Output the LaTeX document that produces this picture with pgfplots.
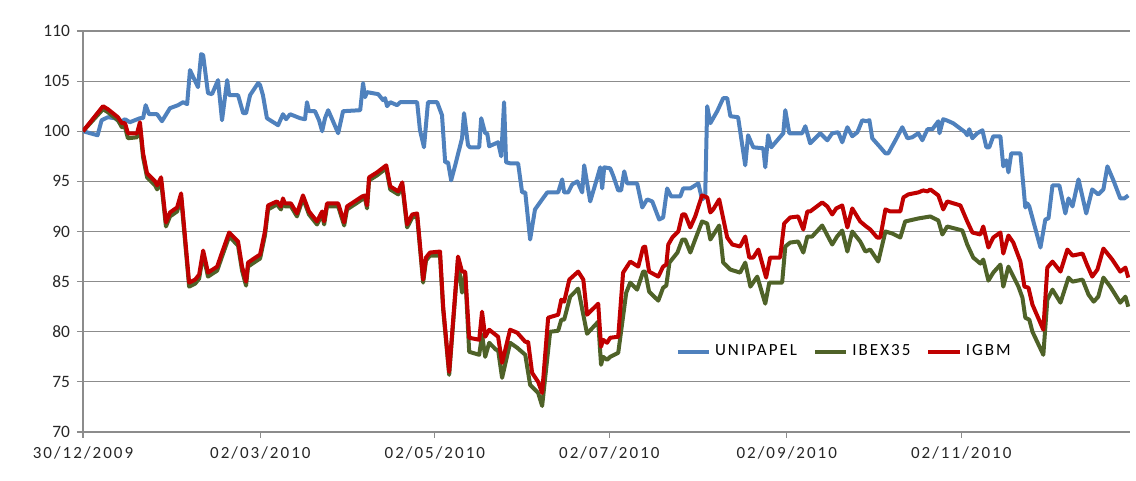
\documentclass[border=0pt]{standalone}
\usepackage{fontspec}
\setmainfont{Carlito}
\newfontfamily\widefont[LetterSpace=12]{Carlito}
\usepackage{pgfplots}
\pgfplotsset{compat=1.18}
\usepackage{pgfplotstable}

\definecolor{uniblue}{HTML}{4F81BD}
\definecolor{ibexgreen}{HTML}{4F6228}
\definecolor{igbmred}{HTML}{C00000}
\definecolor{gridgray}{HTML}{8C8C8C}

% x = days since 30/12/2009
\pgfplotstableread{
d v
0 100
5.1 99.6
6.5 101.1
8.7 101.4
11.2 101.3
12.9 100.9
14.7 101.2
16.4 100.9
19.9 101.3
21.0 101.3
21.9 102.6
23.1 101.7
25.9 101.7
27.6 101.0
30.4 102.3
33.2 102.6
35.0 102.9
36.4 102.7
37.4 106.1
40.2 104.4
41.3 107.7
42.0 107.6
43.7 103.8
45.1 103.7
47.2 105.1
48.6 101.1
50.4 105.1
51.1 103.6
54.2 103.6
56.0 101.8
57.0 101.8
58.4 103.6
61.2 104.8
61.9 104.6
62.9 103.6
64.3 101.3
68.2 100.6
69.9 101.7
71.0 101.2
72.4 101.7
75.9 101.3
77.6 101.2
78.3 102.9
79.0 102.0
81.1 102.0
82.5 101.1
83.6 100.0
84.6 101.3
85.7 102.1
87.4 101.0
89.2 99.8
90.9 102.0
96.9 102.1
97.9 104.8
98.6 103.4
99.3 103.9
103.2 103.7
104.9 103.1
105.6 103.3
106.3 102.5
107.4 102.9
109.8 102.6
110.9 102.9
116.8 102.9
117.8 100.1
119.2 98.4
120.6 102.9
123.8 102.9
125.5 101.6
126.6 96.9
127.6 96.9
128.7 95.1
130.1 96.6
132.5 99.3
133.2 101.8
134.6 98.6
135.3 98.4
138.5 98.4
139.2 101.3
140.6 99.8
141.3 99.8
142.0 98.5
145.1 98.9
146.2 97.5
147.2 102.9
147.9 96.9
149.3 96.8
152.1 96.8
153.5 93.9
154.6 93.9
156.3 89.2
158.0 92.2
160.5 93.2
162.3 93.9
166.1 93.9
167.5 95.2
168.2 93.9
169.6 93.9
171.0 94.7
172.8 95.0
174.5 93.9
175.2 96.6
177.3 93.0
179.7 95.3
180.8 96.4
181.5 94.3
182.2 96.4
184.3 96.3
185.3 95.6
187.1 94.1
188.1 94.1
189.2 96.0
190.2 94.8
193.7 94.8
195.5 92.4
197.2 93.2
199.0 93.0
201.4 91.2
202.8 91.4
204.2 94.3
205.6 93.5
208.8 93.5
209.8 94.3
212.3 94.3
215.1 94.8
216.4 93.2
217.5 93.5
218.2 102.5
219.3 100.8
221.7 102.0
223.8 103.3
225.2 103.3
226.3 101.5
229.0 101.4
231.5 96.6
232.5 99.6
234.3 98.4
237.8 98.3
238.5 96.4
239.5 99.6
240.6 98.4
242.7 99.1
244.8 99.8
245.5 102.1
246.9 99.8
251.4 99.8
252.5 100.5
254.2 98.8
257.7 99.8
260.2 99.1
261.9 99.8
264.0 99.9
265.4 98.9
267.2 100.4
268.9 99.5
270.7 99.9
272.4 101.1
273.8 101.0
274.9 101.1
275.9 99.3
278.7 98.4
280.5 97.8
281.5 97.8
284.0 99.1
286.4 100.4
288.2 99.3
289.9 99.4
292.0 99.8
293.4 99.1
295.2 100.2
296.9 100.2
299.0 101.0
299.4 99.8
300.7 101.2
301.8 101.1
304.2 100.8
308.4 99.9
309.1 99.6
309.8 100.2
310.9 99.3
312.6 99.8
314.4 100.1
315.8 98.4
316.8 98.4
318.2 99.5
320.7 99.5
321.7 96.5
322.8 97.1
323.5 95.9
324.5 97.8
327.7 97.8
329.4 92.4
330.1 92.8
330.8 92.5
334.7 88.4
336.4 91.2
337.5 91.3
338.9 94.6
341.3 94.6
343.4 91.8
344.5 93.3
345.9 92.5
348.0 95.2
350.7 91.8
352.8 94.2
354.9 93.7
356.7 94.2
358.1 96.5
360.2 95.1
362.6 93.3
364.0 93.3
365.4 93.6
}\unipapel

\pgfplotstableread{
d v
0 100
7.0 102.2
8.7 101.9
12.2 101.1
13.6 100.4
14.7 100.4
15.7 99.3
18.9 99.4
19.9 100.5
21.0 97.4
22.4 95.4
25.2 94.6
25.9 94.2
27.3 95.0
29.0 90.5
30.4 91.5
32.9 92.0
34.3 93.4
37.1 84.5
39.2 84.8
40.6 85.3
42.0 87.7
43.7 85.5
46.9 86.1
48.6 87.5
51.1 89.5
54.2 88.6
55.6 86.1
57.0 84.6
57.7 86.5
60.8 87.1
61.9 87.3
63.6 89.6
64.7 92.2
67.8 92.7
69.2 92.2
69.9 93.0
70.6 92.5
72.7 92.5
74.8 91.5
76.9 93.3
79.0 91.7
81.8 90.7
83.6 91.7
84.3 90.7
85.3 92.5
89.2 92.5
91.3 90.6
92.3 92.2
97.6 93.2
98.6 93.3
99.3 92.3
100.0 95.1
102.8 95.6
106.0 96.3
107.4 94.2
110.2 93.7
111.6 94.6
113.3 90.4
115.1 91.4
116.8 91.5
118.9 84.9
119.9 87.1
121.3 87.6
124.8 87.6
125.9 82.2
128.0 75.7
131.1 87.2
132.5 83.9
133.6 85.8
135.0 78.0
138.5 77.7
139.5 79.7
140.6 77.5
142.0 78.9
144.4 78.2
145.1 78.2
146.5 75.4
149.3 78.9
151.8 78.4
154.6 77.7
156.3 74.7
159.1 73.9
160.5 72.6
163.3 80.0
166.1 80.1
167.2 81.2
168.2 81.2
170.3 83.5
173.1 84.3
176.2 79.8
180.1 81.0
181.1 76.7
181.8 77.5
183.2 77.2
184.3 77.5
187.1 77.9
189.9 83.9
191.3 84.9
193.7 84.2
195.8 86.0
196.5 86.0
197.9 84.0
201.1 83.1
202.8 84.4
203.9 84.6
205.0 86.9
207.8 87.9
209.5 89.2
210.5 89.2
212.3 87.9
214.0 89.2
216.4 91.0
218.2 90.8
219.3 89.2
222.4 90.6
223.8 86.9
226.3 86.2
229.7 85.9
231.5 86.9
233.3 84.5
235.7 85.5
238.5 82.8
239.9 84.9
244.4 84.9
245.5 88.5
247.2 88.9
250.0 89.0
251.8 87.9
253.2 89.5
254.9 89.5
258.4 90.6
261.9 88.7
263.6 89.5
265.4 90.1
267.2 88.0
268.9 90.0
271.7 89.0
273.5 88.0
275.2 88.2
278.0 87.0
280.5 90.0
282.9 89.8
285.7 89.4
287.4 91.0
292.0 91.3
296.2 91.5
299.0 91.1
300.4 89.7
302.1 90.5
307.4 90.1
309.1 88.7
311.2 87.4
313.7 86.8
314.7 87.2
316.5 85.1
318.2 85.9
320.7 86.7
321.7 84.5
323.5 86.5
327.0 84.5
328.4 83.4
329.4 81.4
330.8 81.2
331.9 80.0
335.7 77.7
337.1 83.2
338.9 84.2
341.7 82.9
344.5 85.4
345.9 85.0
349.4 85.2
351.5 83.7
353.3 83.0
354.9 83.5
356.7 85.4
359.1 84.5
362.6 82.9
364.4 83.5
365.4 82.5
}\ibex

\pgfplotstableread{
d v
0 100
7.0 102.5
8.7 102.2
12.2 101.4
13.6 100.8
14.7 100.8
15.7 99.8
18.9 99.8
19.9 100.9
21.0 97.8
22.4 95.8
25.2 95.0
25.9 94.6
27.3 95.4
29.0 90.9
30.4 91.9
32.9 92.4
34.3 93.8
37.1 84.9
39.2 85.2
40.6 85.7
42.0 88.1
43.7 85.9
46.9 86.5
48.6 87.9
51.1 89.9
54.2 89.0
55.6 86.5
57.0 85.0
57.7 86.9
60.8 87.5
61.9 87.7
63.6 90.0
64.7 92.6
67.8 93.0
69.2 92.5
69.9 93.3
70.6 92.8
72.7 92.8
74.8 91.8
76.9 93.6
79.0 92.0
81.8 91.0
83.6 92.0
84.3 91.0
85.3 92.8
89.2 92.8
91.3 90.9
92.3 92.5
97.6 93.5
98.6 93.6
99.3 92.6
100.0 95.4
102.8 95.9
106.0 96.6
107.4 94.5
110.2 94.0
111.6 94.9
113.3 90.7
115.1 91.7
116.8 91.8
118.9 85.2
119.9 87.4
121.3 87.9
124.8 88.0
125.9 82.5
128.0 76.0
131.1 87.5
132.5 86.0
133.6 86.0
135.0 79.4
138.5 79.2
139.5 82.0
140.6 79.5
142.0 80.2
145.1 79.5
146.5 76.9
149.3 80.2
151.8 79.9
154.6 79.0
155.6 79.0
157.0 75.9
159.1 75.0
160.5 73.9
162.6 81.4
166.1 81.7
167.2 83.2
168.2 83.0
170.0 85.2
173.1 86.0
174.9 85.2
176.2 81.7
180.1 82.8
181.1 78.5
181.8 79.2
183.2 78.9
184.3 79.4
187.1 79.5
188.8 85.9
191.3 87.0
194.1 86.5
195.8 88.4
196.5 88.5
197.9 86.0
201.1 85.5
202.8 86.5
203.9 86.7
204.6 88.7
206.0 89.4
208.1 90.0
209.5 91.7
210.5 91.7
212.3 90.4
214.0 91.5
216.4 93.6
218.2 93.4
219.3 91.9
220.3 92.2
222.4 93.2
225.2 89.4
227.0 88.7
229.7 88.5
231.5 89.5
232.9 87.4
234.3 87.4
236.1 88.2
238.8 85.4
240.2 87.4
243.7 87.4
245.1 90.8
247.2 91.4
250.0 91.5
251.8 90.2
253.2 92.0
254.2 92.0
258.4 92.9
260.2 92.5
261.9 91.7
263.3 92.3
265.4 92.6
267.2 90.4
268.9 92.3
271.7 91.0
273.8 90.5
275.2 90.2
277.6 89.4
278.7 89.4
280.5 92.2
282.2 92.0
285.7 92.0
286.8 93.4
288.5 93.7
292.0 93.9
293.7 94.1
295.2 94.0
296.2 94.2
299.0 93.6
300.7 92.2
302.1 93.0
306.7 92.6
309.1 91.0
310.9 89.9
313.7 89.7
314.7 90.5
316.5 88.4
318.2 89.4
320.7 89.9
321.7 87.8
323.5 89.6
325.2 88.9
327.7 87.0
329.1 84.5
330.5 84.4
331.9 82.7
335.7 80.2
337.1 86.4
338.9 87.0
341.7 86.0
344.1 88.2
345.9 87.6
349.4 87.8
351.1 86.6
352.8 85.5
354.6 86.2
356.7 88.3
359.8 87.2
362.6 86.0
364.4 86.4
365.4 85.4
}\igbm

\begin{document}
\begin{tikzpicture}
\path[use as bounding box] (-41.5pt,-24.5pt) rectangle (526.5pt,216pt);
\begin{axis}[
    scale only axis,
    width=523.5pt,
    height=200.5pt,
    xmin=0, xmax=366,
    ymin=70, ymax=110,
    ytick={70,75,...,110},
    xtick={0,62,123,184,246,307},
    xticklabels={30/12/2009,02/03/2010,02/05/2010,02/07/2010,02/09/2010,02/11/2010},
    axis x line*=bottom,
    axis y line*=left,
    axis line style={gridgray, line width=0.6pt, -},
    tick style={gridgray, line width=0.6pt},
    tick align=outside,
    major tick length=3pt,
    ymajorgrids,
    grid style={gridgray, line width=0.6pt},
    /pgf/number format/assume math mode=true,
    yticklabel style={font=\fontsize{8.7}{10}\selectfont, text=black!85},
    xticklabel style={font=\widefont\fontsize{8.5}{10}\selectfont, text=black!85, yshift=-1pt},
    legend columns=3,
    legend style={draw=none, fill=none, at={(0.728,0.2)}, anchor=center,
        font=\widefont\fontsize{8.5}{10}\selectfont,
        /tikz/every even column/.append style={column sep=6pt}},
    legend image code/.code={\draw[#1, line width=2pt] (0cm,0cm) -- (0.55cm,0cm);},
]
\addplot[uniblue, line width=2pt, line join=round] table[x=d, y=v] {\unipapel};
\addlegendentry{UNIPAPEL}
\addplot[ibexgreen, line width=2pt, line join=round] table[x=d, y=v] {\ibex};
\addlegendentry{IBEX35}
\addplot[igbmred, line width=2pt, line join=round] table[x=d, y=v] {\igbm};
\addlegendentry{IGBM}
\end{axis}
\end{tikzpicture}
\end{document}
